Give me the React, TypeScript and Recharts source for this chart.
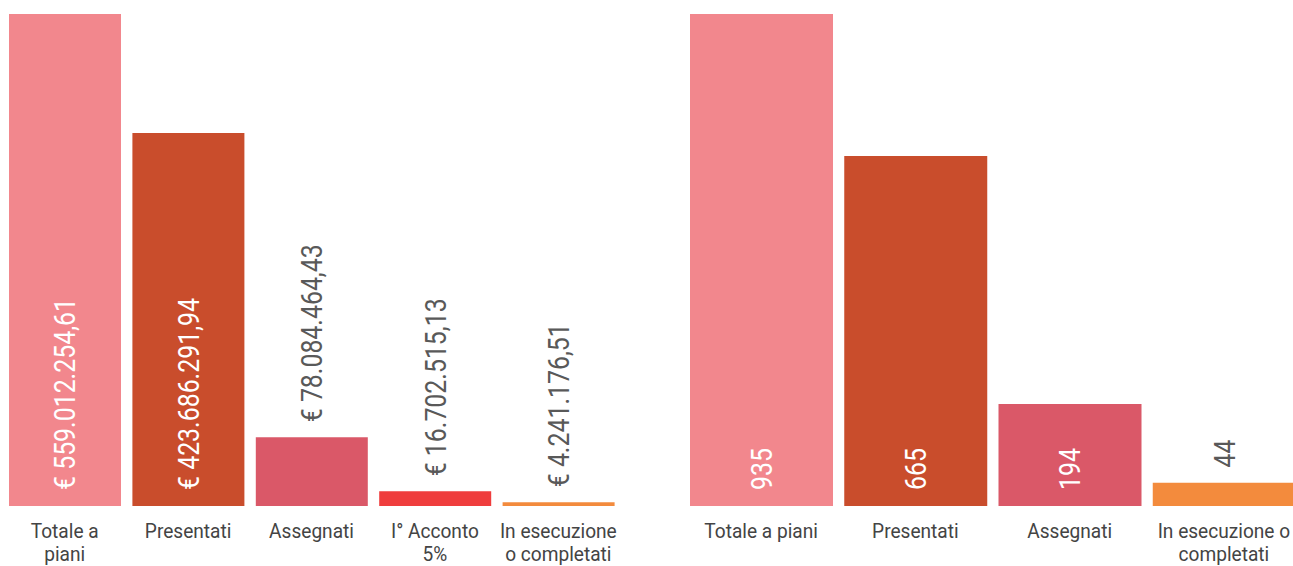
import React from "react";
import { BarChart, Bar, XAxis, YAxis, Cell } from "recharts";

const leftCategories = ["Totale a piani", "Presentati", "Assegnati", "I° Acconto 5%", "In esecuzione o completati"];
const leftTickLines = [["Totale a", "piani"], ["Presentati"], ["Assegnati"], ["I° Acconto", "5%"], ["In esecuzione", "o completati"]];
const leftValues = [559012254.61, 423686291.94, 78084464.43, 16702515.13, 4241176.51];
const leftColors = ["#F2878D", "#C94D2C", "#DA5868", "#EF3D3D", "#F38B3D"];

const rightCategories = ["Totale a piani", "Presentati", "Assegnati", "In esecuzione o completati"];
const rightTickLines = [["Totale a piani"], ["Presentati"], ["Assegnati"], ["In esecuzione o", "completati"]];
const rightValues = [935, 665, 194, 44];
const rightColors = ["#F2878D", "#C94D2C", "#DA5868", "#F38B3D"];

const FONT = 'Roboto, "Noto Sans", sans-serif';
const VALUE_SIZE = 30;
const VALUE_SCALE = 0.83;
const TICK_SIZE = 21;
const TICK_SCALE = 0.91;

function formatEuro(v: number): string {
  const [i, d] = v.toFixed(2).split(".");
  const withDots = i.replace(/\B(?=(\d{3})+(?!\d))/g, ".");
  return `€ ${withDots},${d}`;
}

const leftData = leftCategories.map((c, i) => ({ name: c, value: leftValues[i], label: formatEuro(leftValues[i]) }));
const rightData = rightCategories.map((c, i) => ({ name: c, value: rightValues[i], label: String(rightValues[i]) }));

function makeTick(categories: string[], lines: string[][]) {
  return (props: any) => {
    const { x, y, payload } = props;
    const idx = categories.indexOf(payload.value);
    const ls = lines[idx] || [payload.value];
    return (
      <g>
        {ls.map((l, k) => (
          <text
            key={k}
            x={0}
            y={0}
            transform={`translate(${x},${y + 32 + k * 23}) scale(${TICK_SCALE},1)`}
            textAnchor="middle"
            fill="#444"
            fontFamily={FONT}
            fontSize={TICK_SIZE}
          >
            {l}
          </text>
        ))}
      </g>
    );
  };
}

function makeLabel(data: { label: string }[]) {
  return (props: any) => {
    const { x, y, width, height, index } = props;
    const text = data[index].label;
    const est = text.length * VALUE_SIZE * 0.45;
    const inside = height > est + 24;
    const cx = x + width / 2;
    const startY = inside ? y + height - 16 : y - 15;
    return (
      <text
        x={0}
        y={0}
        transform={`translate(${cx},${startY}) rotate(-90) scale(${VALUE_SCALE},1)`}
        textAnchor="start"
        dominantBaseline="central"
        fill={inside ? "#FFFFFF" : "#595959"}
        fontFamily={FONT}
        fontSize={VALUE_SIZE}
      >
        {text}
      </text>
    );
  };
}

export default function App() {
  return (
    <div style={{ position: "absolute", left: 0, top: 0, width: 1293, height: 566, overflow: "hidden", background: "#fff" }}>
      <div style={{ position: "absolute", left: 0, top: 0 }}>
        <BarChart width={623} height={566} data={leftData} margin={{ top: 14, right: 3, bottom: 0, left: 3 }}>
          <XAxis
            dataKey="name"
            axisLine={false}
            tickLine={false}
            tickSize={0}
            tickMargin={0}
            height={60}
            interval={0}
            tick={makeTick(leftCategories, leftTickLines)}
          />
          <YAxis hide domain={[0, "dataMax"]} />
          <Bar dataKey="value" barSize={112} isAnimationActive={false} label={makeLabel(leftData)}>
            {leftData.map((d, i) => (
              <Cell key={i} fill={leftColors[i]} />
            ))}
          </Bar>
        </BarChart>
      </div>
      <div style={{ position: "absolute", left: 684, top: 0 }}>
        <BarChart width={617} height={566} data={rightData} margin={{ top: 14, right: 0, bottom: 0, left: 0 }}>
          <XAxis
            dataKey="name"
            axisLine={false}
            tickLine={false}
            tickSize={0}
            tickMargin={0}
            height={60}
            interval={0}
            tick={makeTick(rightCategories, rightTickLines)}
          />
          <YAxis hide domain={[0, "dataMax"]} />
          <Bar dataKey="value" barSize={143} isAnimationActive={false} label={makeLabel(rightData)}>
            {rightData.map((d, i) => (
              <Cell key={i} fill={rightColors[i]} />
            ))}
          </Bar>
        </BarChart>
      </div>
    </div>
  );
}
